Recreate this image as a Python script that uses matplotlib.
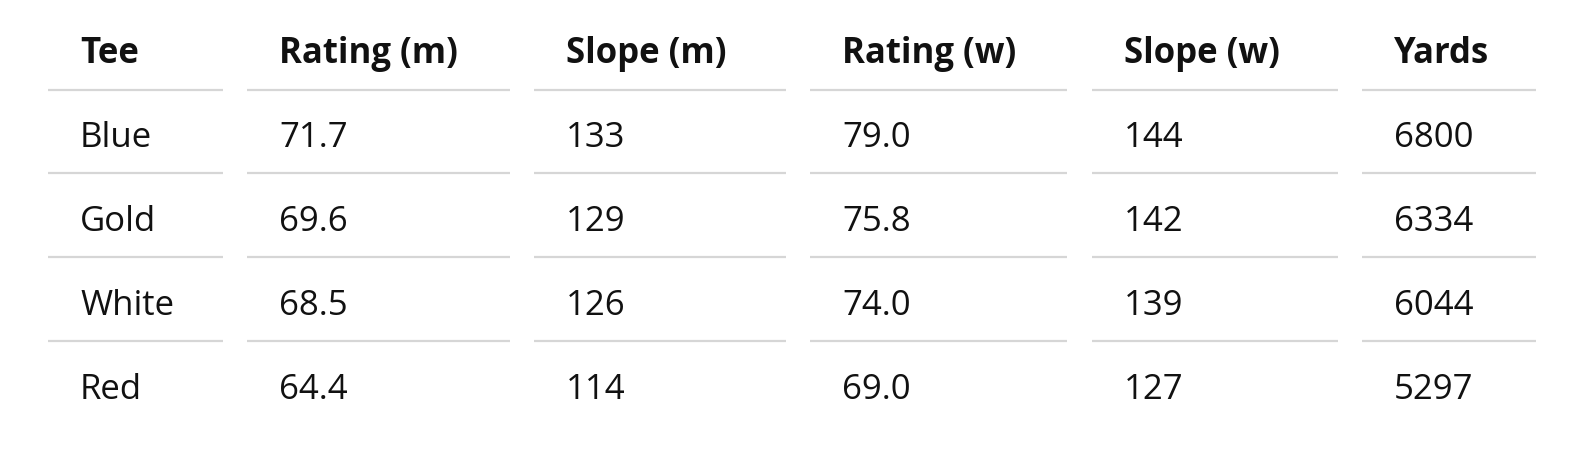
import matplotlib.pyplot as plt
from matplotlib.lines import Line2D

# Table data
columns = ["Tee", "Rating (m)", "Slope (m)", "Rating (w)", "Slope (w)", "Yards"]
tees = ["Blue", "Gold", "White", "Red"]
rating_m = ["71.7", "69.6", "68.5", "64.4"]
slope_m = ["133", "129", "126", "114"]
rating_w = ["79.0", "75.8", "74.0", "69.0"]
slope_w = ["144", "142", "139", "127"]
yards = ["6800", "6334", "6044", "5297"]

W, H = 1578, 453
fig = plt.figure(figsize=(W / 100, H / 100), dpi=100)
fig.patch.set_facecolor("white")

# column segments (pixel x ranges), text baselines and rule positions
col_spans = [(48, 223), (247, 510), (534, 786), (810, 1067), (1092, 1338), (1362, 1536)]
pad = 32
header_base = 63
row_base = [147, 231, 315, 399]
line_y = [89.5, 173, 257, 341]


def fx(x):
    return x / W


def fy(y):
    return 1 - y / H


for x0, x1 in col_spans:
    for ly in line_y:
        fig.add_artist(Line2D([fx(x0), fx(x1)], [fy(ly), fy(ly)],
                              color="#d6d6d6", linewidth=1.6,
                              solid_capstyle="butt"))

for (x0, x1), name in zip(col_spans, columns):
    fig.text(fx(x0 + pad), fy(header_base), name, fontsize=25, fontweight="bold",
             family="Open Sans", color="#111111", va="baseline", ha="left")

rows = list(zip(tees, rating_m, slope_m, rating_w, slope_w, yards))
for y, row in zip(row_base, rows):
    for (x0, x1), val in zip(col_spans, row):
        fig.text(fx(x0 + pad), fy(y), val, fontsize=25, family="Open Sans",
                 color="#111111", va="baseline", ha="left")

fig.savefig("out.png", dpi=100)
